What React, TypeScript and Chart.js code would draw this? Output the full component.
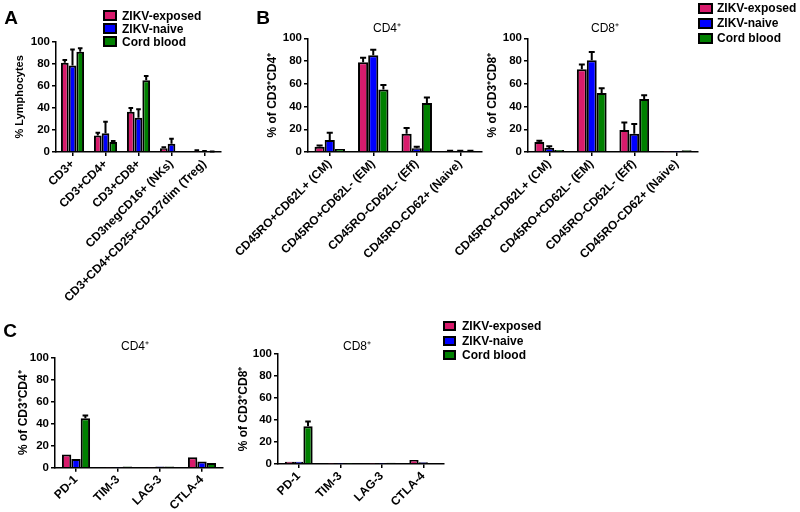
import React, { useEffect, useRef } from "react";
import { Chart, registerables } from "chart.js";
Chart.register(...registerables);

const FONT = "'Liberation Sans', Arial, sans-serif";

const SERIES = ["ZIKV-exposed", "ZIKV-naive", "Cord blood"];
const COLORS = ["#d81b6c", "#0000ff", "#008000"];

// Panel A
const aLabels = ["CD3+", "CD3+CD4+", "CD3+CD8+", "CD3negCD16+ (NKs)", "CD3+CD4+CD25+CD127dim (Treg)"];
const aExposed = [81, 15, 36.5, 3.3, 1];
const aNaive = [78.5, 17, 31, 7.5, 0.7];
const aCord = [91, 9, 65, 0, 0.4];
const aExposedErr = [83.5, 17.5, 40, 4.2, 1.5];
const aNaiveErr = [93, 27.5, 38.7, 12, 1];
const aCordErr = [94, 10, 69, 0, 0.5];

// Panel B
const memLabels = ["CD45RO+CD62L+ (CM)", "CD45RO+CD62L- (EM)", "CD45RO-CD62L- (Eff)", "CD45RO-CD62+ (Naive)"];
const b4Exposed = [4.7, 79, 16, 1];
const b4Naive = [10.5, 85, 3.2, 1];
const b4Cord = [2.6, 55, 43, 1];
const b4ExposedErr = [5.8, 83, 21, 1.2];
const b4NaiveErr = [17, 90, 4.7, 1.2];
const b4CordErr = [2.6, 59, 48, 1.2];

const b8Exposed = [8.8, 72.7, 19.4, 0.3];
const b8Naive = [3.5, 80.6, 16, 0.3];
const b8Cord = [1.8, 52, 46.6, 1.5];
const b8ExposedErr = [10, 77, 26, 0.3];
const b8NaiveErr = [5, 88, 24.6, 0.3];
const b8CordErr = [1.8, 56, 50, 1.5];

// Panel C
const ckLabels = ["PD-1", "TIM-3", "LAG-3", "CTLA-4"];
const c4Exposed = [12, 0.3, 0.3, 9.5];
const c4Naive = [8, 0.3, 1, 5.7];
const c4Cord = [45, 1, 1, 4.2];
const c4ExposedErr = [12, 0.3, 0.3, 9.5];
const c4NaiveErr = [8, 0.3, 1, 5.7];
const c4CordErr = [47.5, 1, 1, 4.2];

const c8Exposed = [2, 0.3, 0.3, 3.7];
const c8Naive = [2, 0.3, 0.3, 1.5];
const c8Cord = [34.3, 0.3, 1.2, 0.5];
const c8ExposedErr = [2, 0.3, 0.3, 3.7];
const c8NaiveErr = [2, 0.3, 0.3, 1.5];
const c8CordErr = [38.6, 0.3, 1.2, 0.5];

const yTicksMax = 100;
const yTickStep = 20;

const errorBarPlugin = {
  id: "errorBars",
  afterDatasetsDraw(chart: any, _args: any, opts: any) {
    const errs = opts && opts.errs;
    if (!errs) return;
    const ctx = chart.ctx;
    const y = chart.scales.y;
    ctx.save();
    ctx.strokeStyle = "#000";
    ctx.lineWidth = 2;
    chart.data.datasets.forEach((ds: any, i: number) => {
      const meta = chart.getDatasetMeta(i);
      meta.data.forEach((bar: any, j: number) => {
        const hi = errs[i][j];
        const v = ds.data[j];
        if (hi == null || hi <= v) return;
        const top = y.getPixelForValue(hi);
        const w = bar.width * 0.3;
        ctx.beginPath();
        ctx.moveTo(bar.x, bar.y);
        ctx.lineTo(bar.x, top);
        ctx.moveTo(bar.x - w, top);
        ctx.lineTo(bar.x + w, top);
        ctx.stroke();
      });
    });
    ctx.restore();
  },
};

type Geo = {
  cx: number; cy: number; cw: number; ch: number;
  axisX: number; yTop: number; yBottom: number; right: number; titleX: number;
};

type PanelProps = {
  geo: Geo;
  labels: string[];
  values: number[][];
  errs: number[][];
  yTitle: string;
  titleSize: number;
  catPct: number;
};

function BarPanel({ geo, labels, values, errs, yTitle, titleSize, catPct }: PanelProps) {
  const ref = useRef<HTMLCanvasElement | null>(null);
  useEffect(() => {
    if (!ref.current) return;
    const titleLeft = geo.titleX - (titleSize * 1.2) / 2;
    const padLeft = titleLeft - geo.cx;
    const yw = geo.axisX - titleLeft;
    const padTop = geo.yTop - geo.cy;
    const padRight = geo.cx + geo.cw - geo.right;
    const xh = geo.cy + geo.ch - geo.yBottom;
    const chart = new Chart(ref.current, {
      type: "bar",
      data: {
        labels,
        datasets: values.map((v, i) => ({
          label: SERIES[i],
          data: v,
          backgroundColor: COLORS[i],
          borderColor: "#000",
          borderWidth: 2,
          categoryPercentage: catPct,
          barPercentage: 1.0,
        })),
      },
      options: {
        responsive: false,
        maintainAspectRatio: false,
        animation: false,
        layout: { padding: { left: padLeft, top: padTop, right: padRight, bottom: 0 } },
        plugins: {
          legend: { display: false },
          tooltip: { enabled: false },
          title: { display: false },
          errorBars: { errs },
        } as any,
        scales: {
          x: {
            grid: { display: true, drawOnChartArea: false, offset: false, color: "#000", lineWidth: 1.5, tickLength: 4 },
            border: { display: true, color: "#000", width: 1.5 },
            ticks: {
              color: "#000",
              font: { family: FONT, size: 12, weight: "bold" },
              minRotation: 45,
              maxRotation: 45,
              autoSkip: false,
              padding: 1,
            },
            afterFit: (s: any) => {
              s.height = xh;
              s.paddingLeft = 0;
              s.paddingRight = 0;
            },
          },
          y: {
            min: 0,
            max: yTicksMax,
            ticks: {
              stepSize: yTickStep,
              color: "#000",
              font: { family: FONT, size: 11.5, weight: "bold" },
              padding: 2,
            },
            grid: { display: true, drawOnChartArea: false, color: "#000", lineWidth: 1.5, tickLength: 4 },
            border: { display: true, color: "#000", width: 1.5 },
            title: {
              display: true,
              text: yTitle,
              color: "#000",
              font: { family: FONT, size: titleSize, weight: "bold" },
              padding: 0,
            },
            afterFit: (s: any) => {
              s.width = yw;
              s.paddingTop = 0;
              s.paddingBottom = 0;
            },
          },
        },
      } as any,
      plugins: [errorBarPlugin as any],
    });
    return () => chart.destroy();
  }, []);
  return (
    <canvas
      ref={ref}
      width={geo.cw}
      height={geo.ch}
      style={{ position: "absolute", left: geo.cx, top: geo.cy, width: geo.cw, height: geo.ch }}
    />
  );
}

function Legend({ x, y, gap, boxW, boxH, textX }: { x: number; y: number; gap: number; boxW: number; boxH: number; textX: number }) {
  return (
    <>
      {SERIES.map((s, i) => (
        <React.Fragment key={s}>
          <div
            style={{
              position: "absolute",
              left: x,
              top: y + i * gap - boxH / 2,
              width: boxW - 4,
              height: boxH - 4,
              background: COLORS[i],
              border: "2px solid #000",
            }}
          />
          <div
            style={{
              position: "absolute",
              left: textX,
              top: y + i * gap - 8,
              height: 16,
              lineHeight: "16px",
              fontFamily: FONT,
              fontWeight: "bold",
              fontSize: 12,
              color: "#000",
              whiteSpace: "nowrap",
            }}
          >
            {s}
          </div>
        </React.Fragment>
      ))}
    </>
  );
}

function Text({ x, y, text, size, bold }: { x: number; y: number; text: string; size: number; bold?: boolean }) {
  return (
    <div
      style={{
        position: "absolute",
        left: x - 50,
        top: y - size * 0.6,
        width: 100,
        textAlign: "center",
        fontFamily: FONT,
        fontSize: size,
        lineHeight: `${size * 1.2}px`,
        fontWeight: bold ? "bold" : "normal",
        color: "#000",
        whiteSpace: "nowrap",
      }}
    >
      {text}
    </div>
  );
}

export default function App() {
  return (
    <div style={{ position: "absolute", left: 0, top: 0, width: 800, height: 512, background: "#fff", overflow: "hidden" }}>
      <BarPanel
        geo={{ cx: 0, cy: 20, cw: 240, ch: 300, axisX: 56, yTop: 41.7, yBottom: 152, right: 221, titleX: 20 }}
        labels={aLabels}
        values={[aExposed, aNaive, aCord]}
        errs={[aExposedErr, aNaiveErr, aCordErr]}
        yTitle="% Lymphocytes"
        titleSize={11}
        catPct={0.7}
      />
      <BarPanel
        geo={{ cx: 225, cy: 20, cw: 275, ch: 300, axisX: 308, yTop: 38.3, yBottom: 152, right: 482, titleX: 272.7 }}
        labels={memLabels}
        values={[b4Exposed, b4Naive, b4Cord]}
        errs={[b4ExposedErr, b4NaiveErr, b4CordErr]}
        yTitle="% of CD3⁺CD4⁺"
        titleSize={12}
        catPct={0.7}
      />
      <BarPanel
        geo={{ cx: 440, cy: 20, cw: 280, ch: 300, axisX: 528, yTop: 38.3, yBottom: 152, right: 698, titleX: 493 }}
        labels={memLabels}
        values={[b8Exposed, b8Naive, b8Cord]}
        errs={[b8ExposedErr, b8NaiveErr, b8CordErr]}
        yTitle="% of CD3⁺CD8⁺"
        titleSize={12}
        catPct={0.7}
      />
      <BarPanel
        geo={{ cx: 0, cy: 340, cw: 240, ch: 172, axisX: 55, yTop: 357.7, yBottom: 467.7, right: 223, titleX: 24 }}
        labels={ckLabels}
        values={[c4Exposed, c4Naive, c4Cord]}
        errs={[c4ExposedErr, c4NaiveErr, c4CordErr]}
        yTitle="% of CD3⁺CD4⁺"
        titleSize={12}
        catPct={0.67}
      />
      <BarPanel
        geo={{ cx: 225, cy: 340, cw: 240, ch: 172, axisX: 278, yTop: 354, yBottom: 464, right: 444, titleX: 244 }}
        labels={ckLabels}
        values={[c8Exposed, c8Naive, c8Cord]}
        errs={[c8ExposedErr, c8NaiveErr, c8CordErr]}
        yTitle="% of CD3⁺CD8⁺"
        titleSize={12}
        catPct={0.67}
      />
      <Text x={11} y={18} text="A" size={19} bold />
      <Text x={263} y={18} text="B" size={19} bold />
      <Text x={10} y={331} text="C" size={19} bold />
      <Text x={387} y={28} text="CD4⁺" size={12} />
      <Text x={605} y={28} text="CD8⁺" size={12} />
      <Text x={135} y={346} text="CD4⁺" size={12} />
      <Text x={357} y={346} text="CD8⁺" size={12} />
      <Legend x={103} y={15.7} gap={13} boxW={14} boxH={11} textX={122} />
      <Legend x={698} y={8.3} gap={15} boxW={15} boxH={11} textX={717} />
      <Legend x={443} y={326} gap={14.5} boxW={12.5} boxH={10} textX={462} />
    </div>
  );
}
